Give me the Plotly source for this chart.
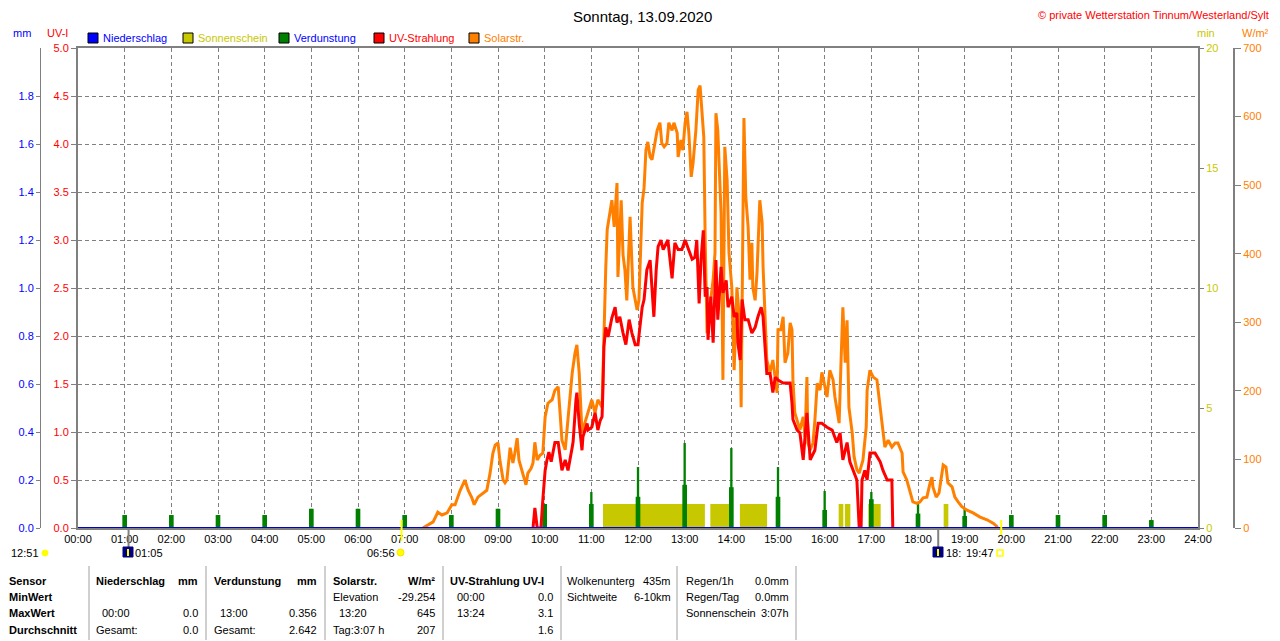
import plotly.graph_objects as go

# Zeitachse (Stunden) und Achsenbeschriftungen
hour_ticks = list(range(25))
hour_labels = ["00:00", "01:00", "02:00", "03:00", "04:00", "05:00", "06:00", "07:00",
               "08:00", "09:00", "10:00", "11:00", "12:00", "13:00", "14:00", "15:00",
               "16:00", "17:00", "18:00", "19:00", "20:00", "21:00", "22:00", "23:00", "24:00"]
uv_ticks = [0.0, 0.5, 1.0, 1.5, 2.0, 2.5, 3.0, 3.5, 4.0, 4.5, 5.0]
mm_ticks = [0.0, 0.2, 0.4, 0.6, 0.8, 1.0, 1.2, 1.4, 1.6, 1.8]
min_ticks = [0, 5, 10, 15, 20]
solar_ticks = [0, 100, 200, 300, 400, 500, 600, 700]

# Solarstrahlung W/m² (Zeit in Stunden)
solar_h = [7.39, 7.61, 7.71, 7.80, 7.91, 8.01, 8.08, 8.19, 8.29, 8.36,
           8.44, 8.49, 8.57, 8.68, 8.76, 8.83, 8.89, 8.94, 9.00, 9.04,
           9.11, 9.15, 9.19, 9.26, 9.32, 9.36, 9.41, 9.45, 9.51, 9.56,
           9.60, 9.64, 9.71, 9.75, 9.79, 9.84, 9.90, 9.96, 10.01, 10.07,
           10.16, 10.22, 10.29, 10.33, 10.37, 10.44, 10.50, 10.59, 10.65, 10.69,
           10.74, 10.80, 10.86, 10.93, 11.01, 11.08, 11.14, 11.23, 11.27, 11.31,
           11.34, 11.40, 11.44, 11.49, 11.55, 11.57, 11.64, 11.68, 11.72, 11.76,
           11.83, 11.89, 11.94, 11.98, 12.02, 12.09, 12.13, 12.17, 12.21, 12.26,
           12.30, 12.34, 12.41, 12.47, 12.51, 12.56, 12.62, 12.66, 12.73, 12.77,
           12.84, 12.86, 12.92, 12.96, 13.01, 13.05, 13.09, 13.14, 13.18, 13.24,
           13.29, 13.33, 13.37, 13.41, 13.44, 13.48, 13.54, 13.61, 13.65, 13.67,
           13.71, 13.78, 13.82, 13.86, 13.91, 13.95, 14.01, 14.06, 14.12, 14.19,
           14.21, 14.25, 14.27, 14.31, 14.36, 14.40, 14.44, 14.46, 14.51, 14.55,
           14.57, 14.61, 14.66, 14.68, 14.72, 14.76, 14.83, 14.89, 14.98, 15.00,
           15.06, 15.11, 15.15, 15.21, 15.26, 15.30, 15.32, 15.36, 15.41, 15.47,
           15.54, 15.58, 15.62, 15.64, 15.69, 15.75, 15.79, 15.84, 15.90, 15.94,
           15.99, 16.05, 16.11, 16.18, 16.22, 16.26, 16.31, 16.35, 16.39, 16.44,
           16.48, 16.52, 16.59, 16.63, 16.69, 16.74, 16.78, 16.82, 16.89, 16.91,
           16.97, 17.04, 17.12, 17.19, 17.25, 17.29, 17.36, 17.44, 17.51, 17.57,
           17.66, 17.68, 17.76, 17.83, 17.89, 17.98, 18.04, 18.11, 18.19, 18.26,
           18.30, 18.32, 18.39, 18.45, 18.51, 18.54, 18.60, 18.64, 18.73, 18.79,
           18.86, 18.94, 19.05, 19.18, 19.33, 19.48, 19.61, 19.71]
solar_w = [0, 9, 23, 19, 22, 34, 34, 55, 70, 55,
           44, 34, 45, 51, 55, 80, 109, 121, 124, 99,
           70, 66, 70, 117, 95, 109, 131, 99, 85, 70,
           63, 80, 87, 95, 125, 99, 106, 109, 162, 182,
           187, 201, 206, 168, 128, 114, 162, 226, 255, 267,
           226, 139, 153, 168, 187, 168, 187, 176, 303, 381,
           435, 464, 478, 439, 503, 366, 478, 398, 376, 332,
           454, 351, 332, 318, 332, 474, 496, 551, 563, 541,
           537, 551, 580, 591, 561, 556, 561, 591, 580, 591,
           576, 541, 566, 551, 591, 607, 576, 512, 532, 580,
           639, 645, 605, 570, 420, 284, 322, 362, 401, 605,
           580, 459, 216, 556, 507, 401, 351, 230, 351, 289,
           176, 420, 598, 483, 439, 362, 416, 351, 332, 372,
           420, 478, 445, 381, 314, 245, 227, 245, 197, 289,
           289, 308, 241, 255, 299, 289, 216, 168, 157, 143,
           162, 133, 220, 124, 114, 124, 157, 211, 201, 227,
           211, 191, 230, 216, 191, 176, 153, 241, 322, 241,
           303, 176, 139, 104, 85, 80, 89, 99, 147, 201,
           230, 220, 216, 176, 139, 118, 128, 118, 124, 124,
           109, 82, 70, 51, 38, 36, 38, 44, 45, 66,
           74, 60, 45, 51, 80, 92, 89, 66, 60, 45,
           38, 31, 26, 22, 16, 12, 7, 1]

# UV-Strahlung UV-I
uv_h = [9.75, 9.79, 9.84, 9.92, 9.96, 10.01, 10.05, 10.09, 10.14, 10.18,
        10.22, 10.29, 10.33, 10.37, 10.44, 10.50, 10.59, 10.61, 10.67, 10.69,
        10.74, 10.80, 10.82, 10.91, 10.93, 11.01, 11.08, 11.14, 11.19, 11.23,
        11.25, 11.27, 11.31, 11.36, 11.44, 11.51, 11.55, 11.61, 11.68, 11.74,
        11.81, 11.87, 11.94, 12.00, 12.04, 12.09, 12.13, 12.19, 12.26, 12.30,
        12.34, 12.39, 12.43, 12.49, 12.54, 12.64, 12.73, 12.79, 12.86, 12.94,
        13.01, 13.07, 13.16, 13.22, 13.26, 13.31, 13.35, 13.40, 13.44, 13.48,
        13.50, 13.56, 13.61, 13.67, 13.71, 13.78, 13.82, 13.89, 13.93, 14.01,
        14.06, 14.12, 14.14, 14.19, 14.23, 14.29, 14.36, 14.44, 14.51, 14.57,
        14.64, 14.68, 14.72, 14.76, 14.83, 14.89, 14.94, 15.00, 15.11, 15.26,
        15.30, 15.32, 15.41, 15.47, 15.54, 15.62, 15.69, 15.79, 15.86, 15.94,
        16.05, 16.16, 16.26, 16.33, 16.39, 16.48, 16.54, 16.61, 16.69, 16.74,
        16.78, 16.80, 16.86, 16.91, 16.97, 17.08, 17.19, 17.25, 17.34, 17.44,
        17.46]
uv_val = [0.0, 0.21, 0.0, 0.0, 0.29, 0.60, 0.71, 0.79, 0.69, 0.79,
          0.89, 0.89, 0.76, 0.60, 0.71, 0.60, 0.84, 0.90, 1.33, 1.41,
          1.09, 0.81, 0.95, 1.09, 1.02, 1.05, 1.20, 1.02, 1.12, 1.16,
          1.47, 1.89, 2.09, 1.99, 2.19, 2.30, 2.14, 2.20, 2.03, 1.91,
          2.17, 2.03, 1.91, 1.91, 2.09, 2.30, 2.38, 2.69, 2.79, 2.51,
          2.20, 2.69, 2.93, 3.00, 2.90, 3.00, 2.60, 2.97, 2.90, 2.90,
          3.00, 2.92, 2.80, 2.82, 3.00, 2.34, 2.79, 3.10, 2.41, 2.51,
          1.96, 2.41, 1.93, 2.79, 2.17, 2.72, 2.45, 2.58, 2.30, 2.41,
          2.20, 2.24, 1.93, 1.75, 2.38, 2.17, 2.17, 2.03, 2.09, 2.20,
          2.30, 2.20, 1.89, 1.61, 1.61, 1.41, 1.57, 1.54, 1.51, 1.51,
          1.30, 1.13, 1.02, 0.99, 0.71, 1.20, 0.71, 0.81, 1.09, 1.09,
          1.05, 1.02, 0.89, 0.99, 0.71, 0.89, 0.69, 0.60, 0.50, 0.0,
          0.0, 0.50, 0.60, 0.50, 0.78, 0.78, 0.69, 0.60, 0.50, 0.50,
          0.0]

# Verdunstung mm (stündlich)
evap_hour = [1, 2, 3, 4, 5, 6, 7, 8, 9, 10, 11, 12, 13, 14, 15, 16, 17, 18, 19, 20, 21, 22, 23]
evap_peak = [0.054, 0.054, 0.054, 0.054, 0.08, 0.08, 0.054, 0.054, 0.08, 0.10, 0.15, 0.254,
             0.354, 0.333, 0.254, 0.154, 0.15, 0.10, 0.08, 0.054, 0.054, 0.054, 0.033]
evap_base = [0.054, 0.054, 0.054, 0.054, 0.08, 0.08, 0.054, 0.054, 0.08, 0.10, 0.10, 0.13,
             0.18, 0.17, 0.13, 0.075, 0.12, 0.06, 0.05, 0.054, 0.054, 0.054, 0.033]

# Sonnenschein (min)
sun_start = ["11:15", "13:33", "14:11", "16:18", "16:26", "16:56", "18:33"]
sun_end = ["13:26", "14:02", "14:46", "16:24", "16:33", "17:12", "18:39"]
sun_min = [1.0, 1.0, 1.0, 1.0, 1.0, 1.0, 1.0]

# Niederschlag mm
rain_h = [0, 24]
rain_mm = [0.0, 0.0]

# Mond-/Sonnenereignisse unter der Zeitachse
event_times = ["01:05", "06:56", "18:26", "19:47"]

legend_items = ["Niederschlag", "Sonnenschein", "Verdunstung", "UV-Strahlung", "Solarstr."]

BLUE, OLIVE, GREEN, RED, ORANGE = "#0000FF", "#C8C800", "#008000", "#FF0000", "#FF8000"
GRID, FRAME = "#808080", "#808080"
FONT = "Liberation Sans, Arial, sans-serif"

# Die Seite hat 8px Rand: Figur entsprechend verkleinern und alles um 8px verschieben
OFF = 8
W, H = 1280 - OFF, 641 - OFF
L, R, T, B = 78, 1198, 48, 528   # Plotfläche in Seitenpixeln


def px(x):
    return (x - OFF) / W


def py(y):
    return (B - y) / (B - T)


def hm(s):
    h, m = s.split(":")
    return int(h) + int(m) / 60


def label(x, y, s, color="black", size=11, anchor="left", bold=False):
    return dict(x=px(x), y=py(y), xref="paper", yref="paper", showarrow=False,
                text=f"<b>{s}</b>" if bold else s, xanchor=anchor, yanchor="middle",
                borderpad=0, font=dict(family=FONT, size=size, color=color))


def rect(x0, y0, x1, y1, fill, line="black", width=1, kind="rect"):
    return dict(type=kind, xref="paper", yref="paper", x0=px(x0), x1=px(x1), y0=py(y0), y1=py(y1),
                fillcolor=fill, line=dict(color=line, width=width), layer="above")


def vline(x, y0, y1, color, width=1, xref="paper"):
    xx = px(x) if xref == "paper" else x
    return dict(type="line", xref=xref, yref="paper", x0=xx, x1=xx, y0=py(y0), y1=py(y1),
                line=dict(color=color, width=width), layer="above")


fig = go.Figure()
fig.add_trace(go.Scatter(x=[None], y=[None], hoverinfo="skip"))
sun_mid = [(hm(a) + hm(b)) / 2 for a, b in zip(sun_start, sun_end)]
sun_w = [hm(b) - hm(a) for a, b in zip(sun_start, sun_end)]
fig.add_trace(go.Bar(x=sun_mid, y=sun_min, width=sun_w, yaxis="y2",
                     marker=dict(color=OLIVE, line_width=0)))
fig.add_trace(go.Bar(x=evap_hour, y=evap_base, width=0.1, yaxis="y3",
                     marker=dict(color=GREEN, line_width=0)))
fig.add_trace(go.Bar(x=evap_hour, y=evap_peak, width=0.05, yaxis="y3",
                     marker=dict(color=GREEN, line_width=0)))
fig.add_trace(go.Scatter(x=solar_h, y=solar_w, mode="lines", yaxis="y4",
                         line=dict(color=ORANGE, width=3)))
fig.add_trace(go.Scatter(x=uv_h, y=uv_val, mode="lines", yaxis="y5",
                         line=dict(color=RED, width=3)))
fig.add_trace(go.Scatter(x=rain_h, y=rain_mm, mode="lines", yaxis="y6", cliponaxis=False,
                         line=dict(color="#0000C8", width=2)))

tickfont = dict(family=FONT, size=11)
fig.update_layout(
    template="none", width=W, height=H, showlegend=False, barmode="overlay",
    margin=dict(l=0, r=0, t=T - OFF, b=H - (B - OFF), pad=0),
    paper_bgcolor="white", plot_bgcolor="white", font=dict(family=FONT, size=11),
    xaxis=dict(domain=[px(L), px(R)], range=[0, 24], tickvals=hour_ticks, ticktext=hour_labels,
               showgrid=True, gridcolor=GRID, griddash="4px,3px", gridwidth=1, zeroline=False,
               showline=True, linecolor=FRAME, linewidth=2, mirror=True, ticks="",
               tickfont=dict(tickfont, color="black"), layer="below traces", automargin=False),
    yaxis=dict(range=[0, 5], tickvals=uv_ticks, tickformat=".1f", ticks="outside", ticklen=5,
               tickcolor=FRAME, tickfont=dict(tickfont, color=RED), showgrid=True, gridcolor=GRID,
               griddash="4px,3px", gridwidth=1, zeroline=False, showline=True, linecolor=FRAME,
               linewidth=2, mirror=True, layer="below traces", automargin=False),
    yaxis2=dict(overlaying="y", side="right", anchor="x", range=[0, 20], tickvals=min_ticks,
                ticks="outside", ticklen=5, tickcolor=FRAME, tickfont=dict(tickfont, color=OLIVE),
                showgrid=False, zeroline=False, automargin=False),
    yaxis3=dict(overlaying="y", side="left", anchor="free", position=px(40), range=[0, 2],
                tickvals=mm_ticks, tickformat=".1f", ticks="outside", ticklen=4, tickcolor=FRAME,
                showline=True, linecolor=FRAME, linewidth=1, tickfont=dict(tickfont, color=BLUE),
                showgrid=False, zeroline=False, automargin=False),
    yaxis4=dict(overlaying="y", side="right", anchor="free", position=px(1234), range=[0, 700],
                tickvals=solar_ticks, ticks="outside", ticklen=6, tickcolor=FRAME, showline=True,
                linecolor=FRAME, linewidth=2, tickfont=dict(tickfont, color=ORANGE),
                showgrid=False, zeroline=False, automargin=False),
    yaxis5=dict(overlaying="y", range=[0, 5], visible=False),
    yaxis6=dict(overlaying="y", range=[0, 2], visible=False),
)

annotations = [
    label(642, 17, "Sonntag, 13.09.2020", size=15, anchor="center"),
    label(1270, 15, "© private Wetterstation Tinnum/Westerland/Sylt", color=RED, anchor="right"),
    label(22, 33, "mm", color=BLUE, anchor="center"),
    label(57, 33, "UV-I", color=RED, anchor="center"),
    label(1206, 33, "min", color=OLIVE, anchor="center"),
    label(1255, 33, "W/m²", color=ORANGE, anchor="center"),
]
shapes = []

# Legende
legend_x = [88, 183, 279, 374, 469]
legend_fill = [BLUE, OLIVE, GREEN, RED, ORANGE]
legend_text = [BLUE, OLIVE, BLUE, RED, ORANGE]
for x, name, fill, col in zip(legend_x, legend_items, legend_fill, legend_text):
    shapes.append(rect(x, 33, x + 10, 43, fill))
    annotations.append(label(x + 14, 38, name, color=col))

# Mond / Sonne unter der Zeitachse
moonrise, sunrise, moonset, sunset = [hm(t) for t in event_times]
shapes += [
    vline(moonrise, 528, 548, "#808080", 2, xref="x"),
    vline(moonset, 528, 548, "#808080", 2, xref="x"),
    vline(sunrise, 520, 541, "#FFFF00", 2, xref="x"),
    vline(sunset, 520, 535, "#FFFF00", 2, xref="x"),
    rect(42, 550, 48, 556, "#FFFF00", line="#FFFF00", kind="circle"),
    rect(123, 547, 133, 557, "#000080", line="#000080"),
    rect(397, 549, 404, 556, "#FFFF00", line="#FFE000", kind="circle"),
    rect(933, 547, 943, 557, "#000080", line="#000080"),
    rect(997, 550, 1003, 556, "white", line="#FFFF00", width=1.5),
    vline(128, 549, 556, "#FFFF00", 2),
    vline(938, 549, 556, "#FFFF00", 2),
]
annotations += [
    label(10, 553, "12:51"),
    label(134, 553, "01:05"),
    label(396, 553, "06:56", anchor="right"),
    label(945, 553, "18:"),
    label(965, 553, "19:47"),
]

# Tabelle
rows = [581, 597, 613, 630]
table = [
    (8, 0, "Sensor", "left", True), (8, 1, "MinWert", "left", True),
    (8, 2, "MaxWert", "left", True), (8, 3, "Durchschnitt", "left", True),
    (95, 0, "Niederschlag", "left", True), (199, 0, "mm", "right", True),
    (101, 2, "00:00", "left", False), (199, 2, "0.0", "right", False),
    (95, 3, "Gesamt:", "left", False), (199, 3, "0.0", "right", False),
    (213, 0, "Verdunstung", "left", True), (318, 0, "mm", "right", True),
    (219, 2, "13:00", "left", False), (318, 2, "0.356", "right", False),
    (213, 3, "Gesamt:", "left", False), (318, 3, "2.642", "right", False),
    (332, 0, "Solarstr.", "left", True), (436, 0, "W/m²", "right", True),
    (332, 1, "Elevation", "left", False), (436, 1, "-29.254", "right", False),
    (338, 2, "13:20", "left", False), (436, 2, "645", "right", False),
    (332, 3, "Tag:3:07 h", "left", False), (436, 3, "207", "right", False),
    (449, 0, "UV-Strahlung UV-I", "left", True),
    (456, 1, "00:00", "left", False), (554, 1, "0.0", "right", False),
    (456, 2, "13:24", "left", False), (554, 2, "3.1", "right", False),
    (554, 3, "1.6", "right", False),
    (566, 0, "Wolkenunterg", "left", False), (672, 0, "435m", "right", False),
    (566, 1, "Sichtweite", "left", False), (672, 1, "6-10km", "right", False),
    (685, 0, "Regen/1h", "left", False), (790, 0, "0.0mm", "right", False),
    (685, 1, "Regen/Tag", "left", False), (790, 1, "0.0mm", "right", False),
    (685, 2, "Sonnenschein", "left", False), (790, 2, "3:07h", "right", False),
]
for x, r, s, anchor, bold in table:
    annotations.append(label(x, rows[r], s, anchor=anchor, bold=bold))

for x in [89, 206, 325, 443, 561, 677, 796]:
    shapes.append(vline(x, 566, 640, "#A0A0A0", 1))

fig.update_layout(annotations=annotations, shapes=shapes)
fig.write_html("out.html")
